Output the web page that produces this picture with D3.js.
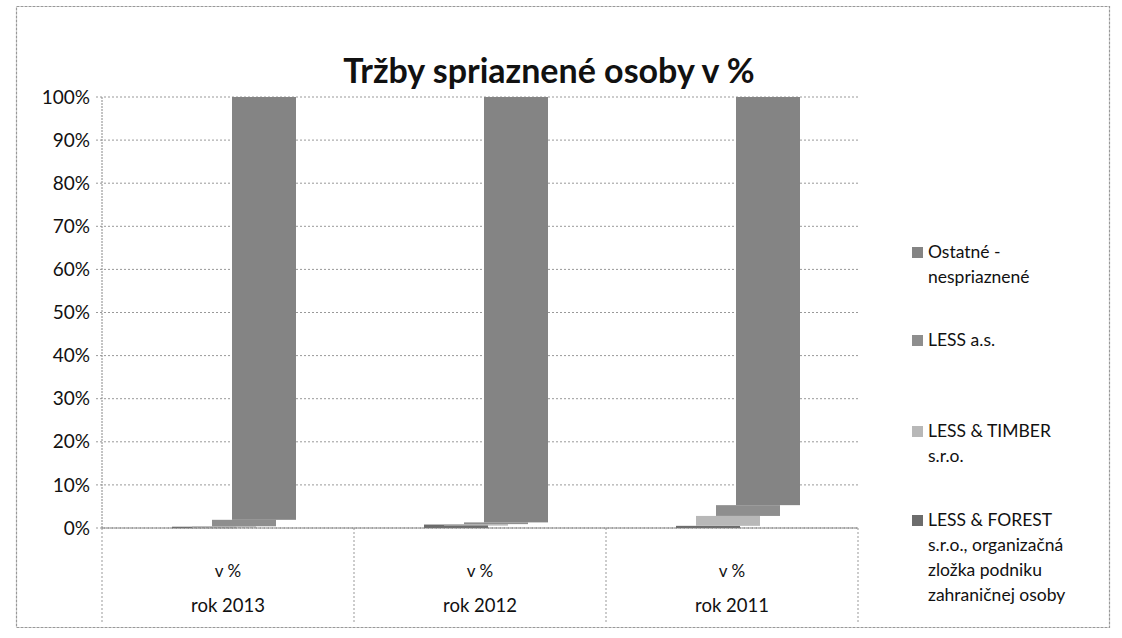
<!DOCTYPE html>
<html>
<head>
<meta charset="utf-8">
<script src="https://cdn.jsdelivr.net/npm/d3@7"></script>
<style>
  html, body { margin: 0; padding: 0; background: #fff; }
  svg text { font-family: Lato, "Open Sans", sans-serif; fill: #111; }
</style>
</head>
<body>
<svg id="chart" width="1122" height="638"></svg>
<script>
/* ── Data ─────────────────────────────────────────────────────────────── */
const categories = ["rok 2013", "rok 2012", "rok 2011"];
const subLabel = "v %";
const seriesNames = [
  "LESS & FOREST s.r.o., organizačná zložka podniku zahraničnej osoby",
  "LESS & TIMBER s.r.o.",
  "LESS a.s.",
  "Ostatné - nespriaznené",
];
// values in % (per year, same order as categories)
const forest  = [0.3, 0.8, 0.5];
const timber  = [0.1, 0.1, 2.3];
const lessAs  = [1.5, 0.4, 2.5];
const ostatne = [98.1, 98.7, 94.7];
const yTicks = [0, 10, 20, 30, 40, 50, 60, 70, 80, 90, 100];

const legendLines = [
  ["Ostatné -", "nespriaznené"],
  ["LESS a.s."],
  ["LESS & TIMBER", "s.r.o."],
  ["LESS & FOREST", "s.r.o., organizačná", "zložka podniku", "zahraničnej osoby"],
];

/* ── Style ────────────────────────────────────────────────────────────── */
const FILLS = ["#6c6c6c", "#b8b8b8", "#8e8e8e", "#848484"]; // forest, timber, less, ostatne
const LEGEND_FILLS = [FILLS[3], FILLS[2], FILLS[1], FILLS[0]];

const svg = d3.select("#chart");
const plot = { left: 102, right: 858, top: 97, bottom: 528 };

// outer border
svg.append("rect")
  .attr("x", 16.5).attr("y", 6.5).attr("width", 1093).attr("height", 621)
  .attr("fill", "none").attr("stroke", "#999").attr("stroke-width", 1.2)
  .attr("stroke-dasharray", "3,1");

// title
svg.append("text")
  .attr("x", 549).attr("y", 83)
  .attr("text-anchor", "middle")
  .attr("font-size", 34).attr("font-weight", 700)
  .text("Tržby spriaznené osoby v %");

/* ── Scales ───────────────────────────────────────────────────────────── */
const x = d3.scaleBand().domain(categories).range([plot.left, plot.right]);
const y = d3.scaleLinear().domain([0, 100]).range([plot.bottom, plot.top]);

// gridlines
svg.append("g")
  .selectAll("line")
  .data(yTicks)
  .join("line")
  .attr("x1", plot.left - 6).attr("x2", plot.right)
  .attr("y1", d => y(d)).attr("y2", d => y(d))
  .attr("stroke", "#999").attr("stroke-width", 1)
  .attr("stroke-dasharray", "2,2");

// y axis line
svg.append("line")
  .attr("x1", plot.left).attr("x2", plot.left)
  .attr("y1", plot.top).attr("y2", plot.bottom)
  .attr("stroke", "#888").attr("stroke-dasharray", "2,1");

// y tick labels
svg.append("g")
  .selectAll("text")
  .data(yTicks)
  .join("text")
  .attr("x", plot.left - 12).attr("y", d => y(d))
  .attr("dy", "0.35em")
  .attr("text-anchor", "end")
  .attr("font-size", 19)
  .text(d => d + "%");

/* ── Bars (stepped stack, each series shifted right) ──────────────────── */
const values = [forest, timber, lessAs, ostatne];
const barW = 64, dx = 20;
const groupW = barW + dx * (values.length - 1);

const bars = [];
categories.forEach((cat, ci) => {
  let base = 0;
  values.forEach((arr, si) => {
    bars.push({ cat, si, y0: base, y1: base + arr[ci] });
    base += arr[ci];
  });
});

svg.append("g")
  .selectAll("rect")
  .data(bars)
  .join("rect")
  .attr("x", d => x(d.cat) + x.bandwidth() / 2 - groupW / 2 + d.si * dx + 6)
  .attr("width", barW)
  .attr("y", d => y(d.y1))
  .attr("height", d => Math.max(1.5, y(d.y0) - y(d.y1)))
  .attr("fill", d => FILLS[d.si]);

/* ── Category axis (table style) ──────────────────────────────────────── */
const axisBottom = 624;
const dividers = [...categories.map(c => x(c)), plot.right];
svg.append("g")
  .selectAll("line")
  .data(dividers)
  .join("line")
  .attr("x1", d => d).attr("x2", d => d)
  .attr("y1", plot.bottom).attr("y2", axisBottom)
  .attr("stroke", "#999").attr("stroke-dasharray", "2,2");

svg.append("line")
  .attr("x1", plot.left).attr("x2", plot.right)
  .attr("y1", plot.bottom).attr("y2", plot.bottom)
  .attr("stroke", "#777").attr("stroke-dasharray", "3,1");

const catG = svg.append("g")
  .selectAll("g")
  .data(categories)
  .join("g")
  .attr("transform", d => `translate(${x(d) + x.bandwidth() / 2},0)`);

catG.append("text")
  .attr("y", 577).attr("text-anchor", "middle").attr("font-size", 17)
  .text(subLabel);
catG.append("text")
  .attr("y", 612).attr("text-anchor", "middle").attr("font-size", 18.5)
  .text(d => d);

/* ── Legend ───────────────────────────────────────────────────────────── */
const legendY = [258, 346, 437, 526];
const lineH = 25;
const legend = svg.append("g")
  .selectAll("g")
  .data(legendLines)
  .join("g")
  .attr("transform", (d, i) => `translate(912,${legendY[i]})`);

legend.append("rect")
  .attr("x", 0).attr("y", -11).attr("width", 11).attr("height", 11)
  .attr("fill", (d, i) => LEGEND_FILLS[i]);

legend.selectAll("text")
  .data(d => d)
  .join("text")
  .attr("x", 16)
  .attr("y", (d, i) => i * lineH)
  .attr("font-size", 17.5)
  .text(d => d);
</script>
</body>
</html>
